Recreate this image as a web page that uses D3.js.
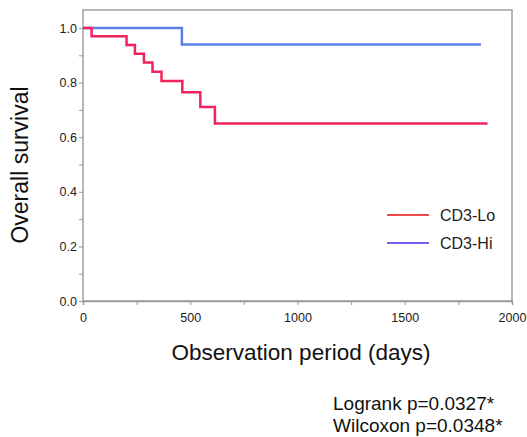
<!DOCTYPE html>
<html>
<head>
<meta charset="utf-8">
<script src="https://cdn.jsdelivr.net/npm/d3@7"></script>
<style>
  body { margin: 0; background: #fff; }
  text { font-family: "Liberation Sans", Arial, sans-serif; }
</style>
</head>
<body>
<div id="chart"></div>
<script>
// Kaplan-Meier steps: [day, survival]
const cd3Lo = [[0, 1.0], [40, 0.970], [203, 0.938], [242, 0.906], [284, 0.874],
               [324, 0.840], [366, 0.806], [463, 0.765], [547, 0.711], [615, 0.650], [1886, 0.650]];
const cd3Hi = [[0, 1.0], [461, 0.940], [1855, 0.940]];
const xTicks = [0, 500, 1000, 1500, 2000];
const yTicks = [0.0, 0.2, 0.4, 0.6, 0.8, 1.0];
const legendItems = ["CD3-Lo", "CD3-Hi"];
const stats = ["Logrank p=0.0327*", "Wilcoxon p=0.0348*"];

const W = 527, H = 437;
const svg = d3.select("#chart").append("svg").attr("width", W).attr("height", H);

const x = d3.scaleLinear().domain([0, 2000]).range([83, 512]);
const y = d3.scaleLinear().domain([0, 1]).range([301, 28]);
const frameTop = 10;

// frame
svg.append("rect")
    .attr("x", x(0)).attr("y", frameTop)
    .attr("width", x(2000) - x(0)).attr("height", y(0) - frameTop)
    .attr("fill", "none").attr("stroke", "#a0a0a0").attr("stroke-width", 1.5);

// x axis
const gx = svg.append("g").attr("transform", `translate(0,${y(0)})`);
gx.call(d3.axisBottom(x).tickValues(d3.range(0, 2001, 250)).tickSize(4)
        .tickFormat(d => xTicks.includes(d) ? d : ""));
gx.select(".domain").attr("stroke", "#999").attr("stroke-width", 1.5);
gx.selectAll(".tick line").attr("stroke", "#999");
gx.selectAll(".tick text").attr("font-size", 12.5).attr("fill", "#222")
    .attr("y", 8).attr("dy", "1.05em")
    .style("font-family", "Liberation Sans, Arial, sans-serif");

// y axis
const gy = svg.append("g").attr("transform", `translate(${x(0)},0)`);
gy.call(d3.axisLeft(y).tickValues(d3.range(0, 1.01, 0.1)).tickSize(4)
        .tickFormat(d => yTicks.some(t => Math.abs(t - d) < 1e-6) ? d3.format(".1f")(d) : ""));
gy.select(".domain").remove();
gy.selectAll(".tick line").attr("stroke", "#999");
gy.selectAll(".tick text").attr("font-size", 12.5).attr("fill", "#222").attr("x", -6)
    .style("font-family", "Liberation Sans, Arial, sans-serif");

// survival curves
const line = d3.line().x(d => x(d[0])).y(d => y(d[1])).curve(d3.curveStepAfter);
svg.append("path").datum(cd3Hi).attr("d", line)
    .attr("fill", "none").attr("stroke", "#5a7fe6").attr("stroke-width", 2.5);
svg.append("path").datum(cd3Lo).attr("d", line)
    .attr("fill", "none").attr("stroke", "#f2225c").attr("stroke-width", 2.5);

// legend
const legendColors = ["#ee4848", "#7a5cf0"];
const lg = svg.append("g");
legendItems.forEach((name, i) => {
    const ly = 215 + i * 28;
    lg.append("line").attr("x1", 387).attr("x2", 429).attr("y1", ly).attr("y2", ly)
        .attr("stroke", legendColors[i]).attr("stroke-width", 1.8);
    lg.append("text").attr("x", 440).attr("y", ly + 5.5)
        .attr("font-size", 16).attr("fill", "#222").text(name);
});

// axis titles
svg.append("text")
    .attr("x", 301).attr("y", 360)
    .attr("text-anchor", "middle").attr("font-size", 22.5).attr("fill", "#111")
    .text("Observation period (days)");
svg.append("text")
    .attr("transform", "translate(28,165) rotate(-90)")
    .attr("text-anchor", "middle").attr("font-size", 23).attr("fill", "#111")
    .text("Overall survival");

// test statistics
stats.forEach((s, i) => {
    svg.append("text")
        .attr("x", 333).attr("y", 410 + i * 22)
        .attr("font-size", 19).attr("fill", "#111").text(s);
});
</script>
</body>
</html>
